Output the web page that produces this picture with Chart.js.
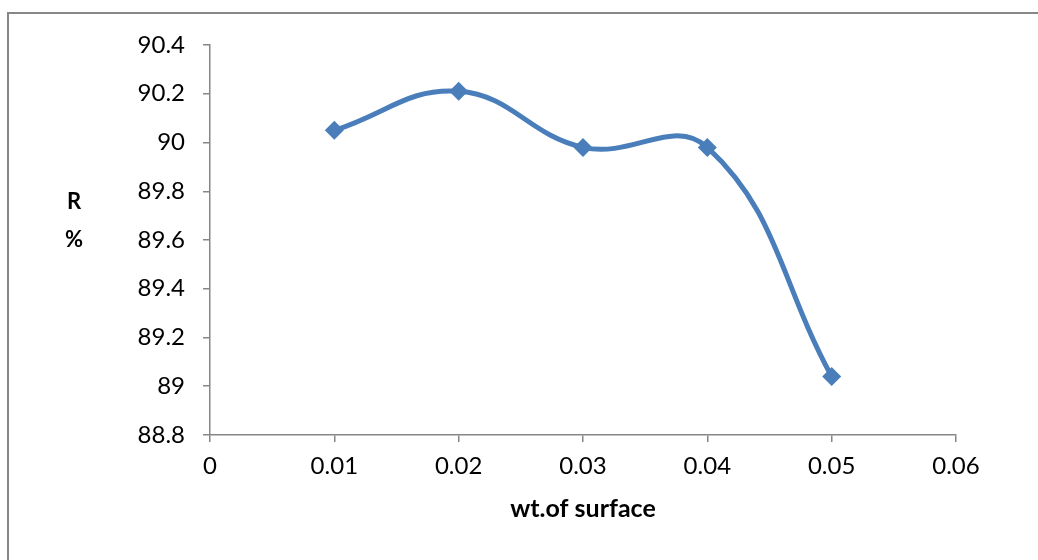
<!DOCTYPE html>
<html>
<head>
<meta charset="utf-8">
<script src="https://cdn.jsdelivr.net/npm/chart.js@4.4.1/dist/chart.umd.min.js"></script>
<style>
  body { margin: 0; background: #fff; }
  #wrap { position: relative; width: 1038px; height: 560px; overflow: hidden; }
  #frame { position: absolute; left: 7px; top: 12px; width: 2000px; height: 2000px; border: 2px solid #878787; }
  canvas { position: absolute; left: 0; top: 0; }
</style>
</head>
<body>
<div id="wrap">
  <div id="frame"></div>
  <canvas id="chart" width="1038" height="560"></canvas>
</div>
<script>
// values
var wtOfSurface = [0.01, 0.02, 0.03, 0.04, 0.05];
var rPercent = [90.05, 90.21, 89.98, 89.98, 89.04];

var xTicks = [0, 0.01, 0.02, 0.03, 0.04, 0.05, 0.06];
var xTickLabels = ['0', '0.01', '0.02', '0.03', '0.04', '0.05', '0.06'];
var yTicks = [88.8, 89, 89.2, 89.4, 89.6, 89.8, 90, 90.2, 90.4];
var yTickLabels = ['88.8', '89', '89.2', '89.4', '89.6', '89.8', '90', '90.2', '90.4'];

var axisGray = '#868686';
var blue = '#4a7ebb';

var points = [];
for (var i = 0; i < wtOfSurface.length; i++) {
    points.push({ x: wtOfSurface[i], y: rPercent[i] });
}

function labelFor(value, ticks, labels) {
    for (var i = 0; i < ticks.length; i++) {
        if (Math.abs(ticks[i] - value) < 1e-9) return labels[i];
    }
    return '';
}

// the y title sits upright, one line each, left of the tick labels
var yTitlePlugin = {
    id: 'yTitle',
    afterDraw: function (chart) {
        var ctx = chart.ctx;
        ctx.save();
        ctx.fillStyle = '#000';
        ctx.font = 'bold 22px Lato';
        ctx.textAlign = 'center';
        ctx.textBaseline = 'middle';
        ctx.fillText('R', 74, 202);
        ctx.fillText('%', 74, 240);
        ctx.restore();
    }
};

var options = {
    type: 'line',
    data: {
        datasets: [
            {
                label: 'R %',
                data: points,
                borderColor: blue,
                backgroundColor: blue,
                borderWidth: 5,
                tension: 0.42,
                fill: false,
                pointStyle: 'rectRot',
                pointRadius: 9.5,
                pointHoverRadius: 9.5,
                pointBorderWidth: 0,
                pointBackgroundColor: blue
            }
        ]
    },
    options: {
        responsive: false,
        animation: false,
        layout: {
            padding: { left: 0, top: 45, right: 82, bottom: 0 }
        },
        plugins: {
            legend: { display: false },
            tooltip: { enabled: false }
        },
        scales: {
            x: {
                type: 'linear',
                min: 0,
                max: 0.06,
                afterBuildTicks: function (scale) {
                    scale.ticks = xTicks.map(function (v) { return { value: v }; });
                },
                afterFit: function (scale) { scale.height = 125; },
                grid: {
                    drawOnChartArea: false,
                    drawTicks: true,
                    tickLength: 7,
                    color: axisGray,
                    lineWidth: 1.5
                },
                border: { display: true, color: axisGray, width: 1.5 },
                ticks: {
                    color: '#000',
                    font: { family: 'Lato', size: 24 },
                    padding: 10,
                    maxRotation: 0,
                    autoSkip: false,
                    callback: function (value) { return labelFor(value, xTicks, xTickLabels); }
                },
                title: {
                    display: true,
                    text: 'wt.of surface',
                    color: '#000',
                    font: { family: 'Lato', size: 25, weight: 'bold' },
                    padding: { top: 0, bottom: 36 }
                }
            },
            y: {
                type: 'linear',
                min: 88.8,
                max: 90.4,
                afterBuildTicks: function (scale) {
                    scale.ticks = yTicks.map(function (v) { return { value: v }; });
                },
                afterFit: function (scale) { scale.width = 210; },
                grid: {
                    drawOnChartArea: false,
                    drawTicks: true,
                    tickLength: 7,
                    color: axisGray,
                    lineWidth: 1.5
                },
                border: { display: true, color: axisGray, width: 1.5 },
                ticks: {
                    color: '#000',
                    font: { family: 'Lato', size: 24 },
                    padding: 18,
                    autoSkip: false,
                    callback: function (value) { return labelFor(value, yTicks, yTickLabels); }
                }
            }
        }
    },
    plugins: [yTitlePlugin]
};

var ctx = document.getElementById('chart').getContext('2d');
new Chart(ctx, options);
</script>
</body>
</html>
